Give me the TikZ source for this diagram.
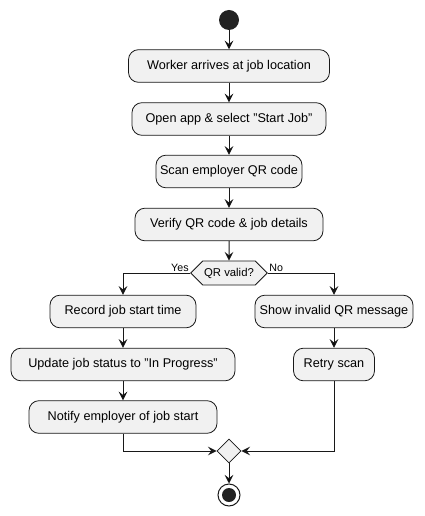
\documentclass[tikz,border=0pt]{standalone}
\usepackage{fontspec}
\setmainfont{Liberation Sans}
\usepackage{tikz}
\usetikzlibrary{positioning, arrows.meta, shapes.geometric, shapes.symbols}

\definecolor{boxfill}{HTML}{F1F1F1}
\definecolor{boxline}{HTML}{181818}
\definecolor{dotfill}{HTML}{222222}

\tikzset{
    action/.style={draw=boxline, fill=boxfill, rounded corners=7.5pt, line width=0.6pt,
                   minimum height=24.5pt, inner xsep=3pt, font=\fontsize{9.5}{11}\selectfont},
    guard/.style={draw=boxline, fill=boxfill, shape=signal, signal to=west and east,
                  signal pointer angle=90, minimum width=55.5pt, minimum height=18pt,
                  inner xsep=1pt, line width=0.6pt, font=\fontsize{8.5}{10}\selectfont},
    merger/.style={draw=boxline, fill=boxfill, diamond, minimum size=18pt, inner sep=0pt, line width=0.6pt},
    flow/.style={draw=boxline, line width=0.75pt, -{Stealth[length=6.5pt, width=6.5pt, inset=2.5pt]}},
    branch/.style={font=\fontsize{8}{9}\selectfont, inner sep=1pt}
}

\begin{document}
\begin{tikzpicture}[x=0.75pt, y=-0.75pt]
        \useasboundingbox (0,0) rectangle (424,516);

        \node[circle, fill=dotfill, minimum size=15pt, inner sep=0pt] (start) at (229,20) {};
        \node[action, minimum width=150.75pt] (arrive)  at (229,66)    {Worker arrives at job location};
        \node[action, minimum width=145.5pt]  (open)    at (229,119)   {Open app \& select "Start Job"};
        \node[action, minimum width=109.5pt]  (scan)    at (229,171.5) {Scan employer QR code};
        \node[action, minimum width=141pt]    (verify)  at (229,224.5) {Verify QR code \& job details};
        \node[guard] (valid) at (229,273) {QR valid?};

        \node[action, minimum width=109.5pt]  (record)  at (123,311.5) {Record job start time};
        \node[action, minimum width=168pt]    (update)  at (123,364.5) {Update job status to "In Progress"};
        \node[action, minimum width=141pt]    (notify)  at (123,417)   {Notify employer of job start};

        \node[action, minimum width=118.5pt]  (invalid) at (334,311.5) {Show invalid QR message};
        \node[action, minimum width=60.75pt]  (retry)   at (334,364.5) {Retry scan};

        \node[merger] (merge) at (229,451) {};
        \node[circle, draw=boxline, line width=0.75pt, minimum size=16.5pt, inner sep=0pt,
              path picture={\fill[dotfill] (path picture bounding box.center) circle (5.25pt);}] (stop) at (229,495) {};

        \path[flow] (start)  edge [] node []{} (arrive)
                    (arrive) edge [] node []{} (open)
                    (open)   edge [] node []{} (scan)
                    (scan)   edge [] node []{} (verify)
                    (verify) edge [] node []{} (valid)
                    (record) edge [] node []{} (update)
                    (update) edge [] node []{} (notify)
                    (invalid) edge [] node []{} (retry)
                    (merge)  edge [] node []{} (stop);

        \draw[flow] (valid.west) -| (record.north);
        \draw[flow] (valid.east) -| (invalid.north);
        \draw[flow] (notify.south) |- (merge.west);
        \draw[flow] (retry.south) |- (merge.east);

        \node[branch, anchor=south east] (yes) at (valid.west) {Yes};
        \node[branch, anchor=south west] (no)  at (valid.east) {No};
    \end{tikzpicture}
\end{document}
